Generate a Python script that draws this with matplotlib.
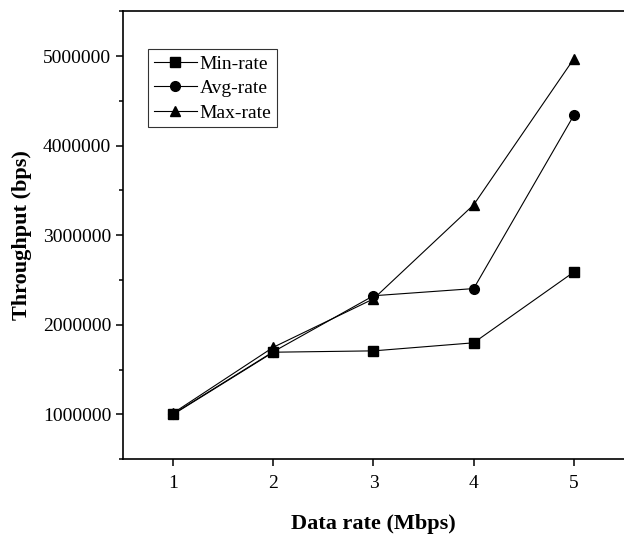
import matplotlib.pyplot as plt
from matplotlib.ticker import MultipleLocator, FuncFormatter

plt.rcParams['font.family'] = ['Liberation Serif', 'DejaVu Serif']

# data rate in Mbps
data_rate = [1, 2, 3, 4, 5]

# throughput in bps
min_rate = [1000000, 1695000, 1710000, 1800000, 2590000]
avg_rate = [1005000, 1700000, 2325000, 2405000, 4340000]
max_rate = [1015000, 1750000, 2290000, 3340000, 4970000]

fig = plt.figure(figsize=(6.24, 5.35), dpi=100)
ax = fig.add_axes([0.197, 0.1415, 0.803, 0.8375])

ax.plot(data_rate, min_rate, color='black', lw=0.8, marker='s', ms=7, label='Min-rate')
ax.plot(data_rate, avg_rate, color='black', lw=0.8, marker='o', ms=7, label='Avg-rate')
ax.plot(data_rate, max_rate, color='black', lw=0.8, marker='^', ms=7.5, label='Max-rate')

ax.set_xlim(0.5, 5.5)
ax.set_ylim(500000, 5500000)
ax.xaxis.set_major_locator(MultipleLocator(1))
ax.yaxis.set_major_locator(MultipleLocator(1000000))
ax.yaxis.set_minor_locator(MultipleLocator(500000))
ax.yaxis.set_major_formatter(FuncFormatter(lambda v, p: '%d' % v))

ax.spines['right'].set_visible(False)
for s in ['left', 'bottom', 'top']:
    ax.spines[s].set_linewidth(1.2)
ax.tick_params(axis='both', which='major', direction='out', length=5, width=1.1, labelsize=14)
ax.tick_params(axis='y', which='minor', direction='out', length=3, width=1.1)
ax.tick_params(axis='x', which='major', pad=6)

ax.set_xlabel('Data rate (Mbps)', fontsize=16, fontweight='bold', labelpad=16)
ax.set_ylabel('Throughput (bps)', fontsize=16, fontweight='bold', labelpad=8)

leg = ax.legend(loc='upper left', bbox_to_anchor=(0.05, 0.915), borderaxespad=0,
                fontsize=14, frameon=True, fancybox=False, edgecolor='black',
                handlelength=2.2, handletextpad=0.15, labelspacing=0.35,
                borderpad=0.3)
leg.get_frame().set_linewidth(0.8)

plt.savefig('out.png', dpi=100)
